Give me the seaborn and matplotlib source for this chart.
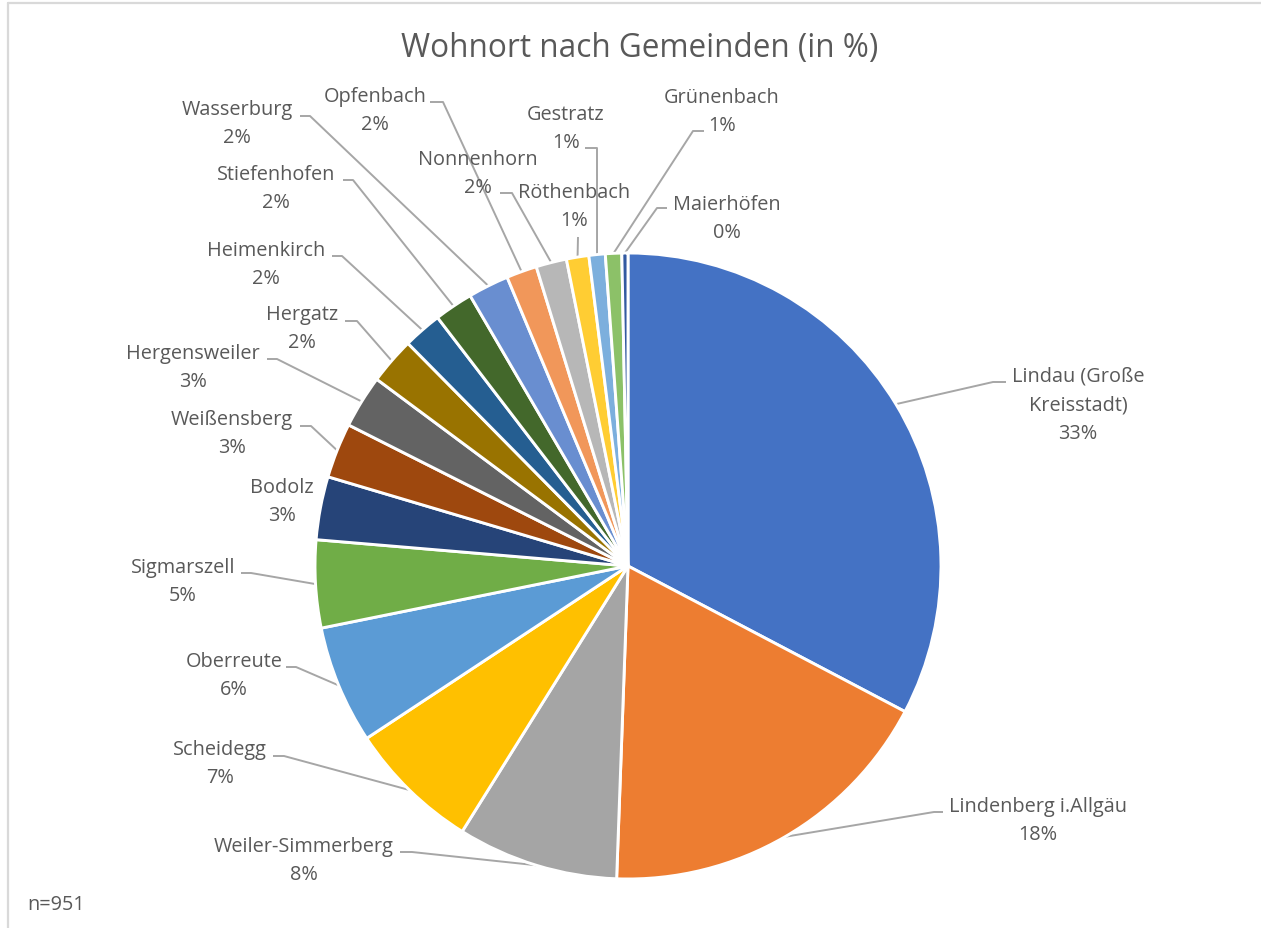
import matplotlib
matplotlib.use("Agg")
import numpy as np
import matplotlib.pyplot as plt
import seaborn as sns

# Wohnort der Befragten (n=951), im Uhrzeigersinn ab 12 Uhr
gemeinden = ["Lindau (Große Kreisstadt)", "Lindenberg i.Allgäu", "Weiler-Simmerberg",
             "Scheidegg", "Oberreute", "Sigmarszell", "Bodolz", "Weißensberg",
             "Hergensweiler", "Hergatz", "Heimenkirch", "Stiefenhofen", "Wasserburg",
             "Opfenbach", "Nonnenhorn", "Röthenbach", "Gestratz", "Grünenbach", "Maierhöfen"]
anzahl = [311, 170, 79, 65, 58, 43, 31, 27, 26, 23, 19, 19, 20, 15, 15, 11, 8, 8, 3]
n_gesamt = 951

farben = ["#4472C4", "#ED7D31", "#A5A5A5", "#FFC000", "#5B9BD5", "#70AD47",
          "#264478", "#9E480E", "#636363", "#997300", "#255E91", "#43682B",
          "#698ED0", "#F1975A", "#B7B7B7", "#FFCD33", "#7CAFDD", "#8CC168", "#335AA1"]

umbruch = {"Lindau (Große Kreisstadt)": "Lindau (Große\nKreisstadt)"}

# Layout (Pixel, y von oben): Textmitte, Ansatzpunkt der Führungslinie, Knick
W, H = 1261, 929
text_pos = [(1078, 405), (1038, 821), (304, 861), (220, 764), (234, 676), (183, 582),
            (282, 502), (232, 434), (193, 368), (302, 329), (266, 265), (276, 189),
            (237, 124), (375, 111), (478, 174), (574, 207), (566, 129), (722, 112),
            (727, 219)]
anker = [(1006, 383), (943, 813), (400, 853), (273, 757), (286, 668), (241, 574),
         None, (300, 427), (267, 360), (345, 322), (332, 257), (343, 181),
         (300, 117), (430, 103), (500, 194), (578, 238), (585, 149), (704, 132),
         (667, 209)]
knick = [-13, -9, 12, 11, 10, 10, 0, 11, 10, 12, 10, 10, 10, 13, 12, 0, 12, -11, -10]


def px(x, y):
    return x, H - y


sns.set_theme(style="white")
plt.rcParams['font.family'] = ['Open Sans', 'DejaVu Sans']
textfarbe = "#595959"

fig = plt.figure(figsize=(W / 100, H / 100), dpi=100)
ax = fig.add_axes([0, 0, 1, 1])

cx, cy = px(628, 567)
radius = 313
wedges, _ = ax.pie(anzahl, colors=farben, startangle=90, counterclock=False,
                   center=(cx, cy), radius=radius, frame=True,
                   wedgeprops=dict(edgecolor="white", linewidth=2.1))
ax.set_xlim(0, W)
ax.set_ylim(0, H)
ax.set_aspect("auto")
ax.axis("off")

for i, w in enumerate(wedges):
    name = umbruch.get(gemeinden[i], gemeinden[i])
    pct = int(round(100 * anzahl[i] / n_gesamt))
    tx, ty = px(*text_pos[i])
    ax.text(tx, ty, f"{name}\n{pct}%", ha="center", va="center", multialignment="center",
            fontsize=14.3, color=textfarbe, linespacing=1.58)
    if anker[i] is None:
        continue
    mid = np.deg2rad((w.theta1 + w.theta2) / 2)
    ex, ey = cx + radius * np.cos(mid), cy + radius * np.sin(mid)
    ax_, ay_ = px(*anker[i])
    xs = [ax_, ax_ + knick[i], ex]
    ys = [ay_, ay_, ey]
    ax.plot(xs, ys, color="#A6A6A6", lw=1.4, zorder=0.5, solid_capstyle="butt")

tx, ty = px(640, 48)
ax.text(tx, ty, "Wohnort nach Gemeinden (in %)", ha="center", va="center",
        fontsize=22.7, color=textfarbe)
tx, ty = px(27, 905)
ax.text(tx, ty, "n=951", ha="left", va="center", fontsize=14.3, color=textfarbe)

# Rahmen (oben und links sichtbar)
ax.plot([8, W], [H - 4, H - 4], color="#D9D9D9", lw=1.6, clip_on=False)
ax.plot([8, 8], [0, H - 4], color="#D9D9D9", lw=1.6, clip_on=False)

fig.savefig("out.png", dpi=100, facecolor="white")
plt.close(fig)
